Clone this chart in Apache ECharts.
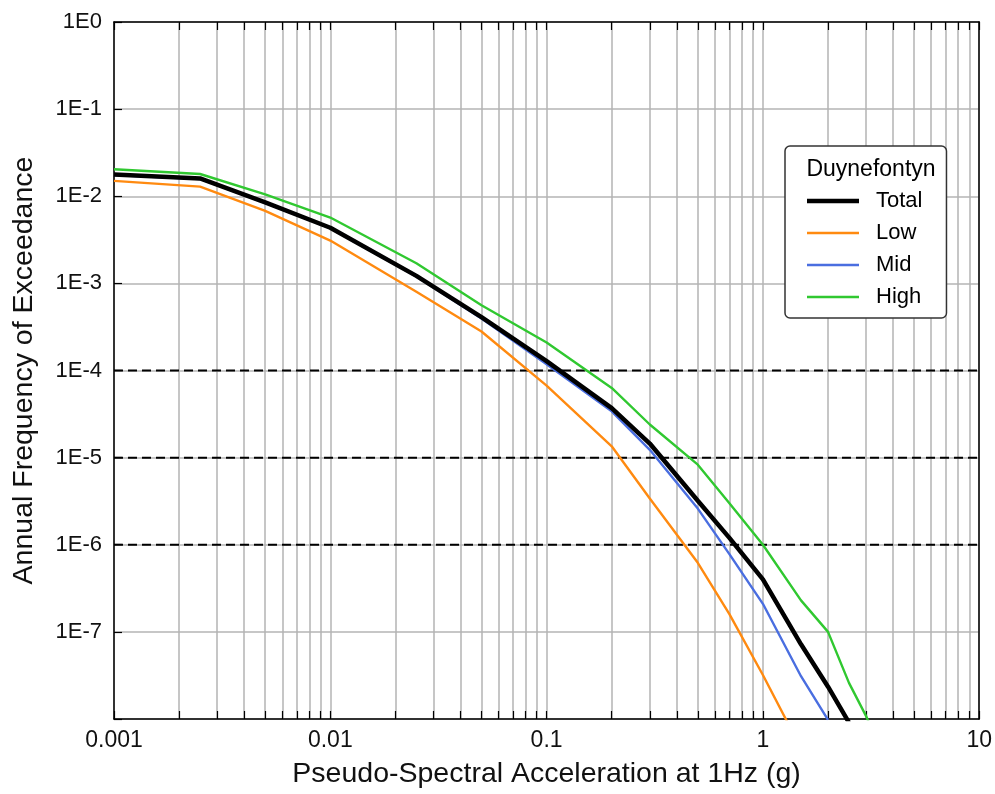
<!DOCTYPE html>
<html>
<head>
<meta charset="utf-8">
<script src="https://cdn.jsdelivr.net/npm/echarts@6/dist/echarts.min.js"></script>
<style>
  html, body { margin: 0; padding: 0; background: #ffffff; }
  #chart { width: 995px; height: 794px; }
</style>
</head>
<body>
<div id="chart"></div>
<script>
// Pseudo-spectral acceleration levels (g) at which the hazard is evaluated
const psa = [0.001, 0.0025, 0.005, 0.01, 0.025, 0.05, 0.1, 0.2, 0.3, 0.5, 0.7, 1, 1.5, 2, 2.5, 3, 4];

// Annual frequency of exceedance per branch (each list stops once it falls below 1E-8)
const total = [1.78e-2, 1.6e-2, 8.5e-3, 4.35e-3, 1.22e-3, 4.1e-4, 1.28e-4, 3.7e-5, 1.45e-5, 3.2e-6, 1.2e-6, 4.0e-7, 7.2e-8, 2.35e-8, 9.1e-9];
const low   = [1.5e-2, 1.29e-2, 6.8e-3, 3.1e-3, 8.0e-4, 2.8e-4, 6.7e-5, 1.35e-5, 3.4e-6, 6.2e-7, 1.6e-7, 3.2e-8, 4.6e-9];
const mid   = [1.75e-2, 1.58e-2, 8.4e-3, 4.3e-3, 1.2e-3, 3.95e-4, 1.18e-4, 3.4e-5, 1.23e-5, 2.6e-6, 7.8e-7, 2.1e-7, 3.1e-8, 9.8e-9];
const high  = [2.04e-2, 1.8e-2, 1.05e-2, 5.7e-3, 1.7e-3, 5.6e-4, 2.1e-4, 6.3e-5, 2.4e-5, 8.3e-6, 3.0e-6, 1.0e-6, 2.3e-7, 1.0e-7, 2.6e-8, 1.08e-8, 2e-9];

// Dashed reference frequencies, drawn across the full acceleration range
const referenceLevels = [1e-4, 1e-5, 1e-6];
const referenceSpan = [0.001, 10];

// Tick labels (x: one per decade from 0.001; y: one per decade from 1E0 down)
const xTickLabels = ['0.001', '0.01', '0.1', '1', '10'];
const yTickLabels = ['1E0', '1E-1', '1E-2', '1E-3', '1E-4', '1E-5', '1E-6', '1E-7', ''];

const legendTitle = 'Duynefontyn';
const xTitle = 'Pseudo-Spectral Acceleration at 1Hz (g)';
const yTitle = 'Annual Frequency of Exceedance';

const FONT = "'Liberation Sans', Arial, sans-serif";
const GRID_GRAY = '#b4b4b4';

const toPoints = ys => ys.map((y, i) => [psa[i], y]);

const xLabel = v => xTickLabels[Math.round(Math.log10(v)) + 3] ?? '';
const yLabel = v => yTickLabels[Math.round(-Math.log10(v))] ?? '';

// Legend swatch: a flat bar whose thickness follows the line width
const swatch = h => 'path://M0,0H52V' + h + 'H0Z';

const baseX = {
  type: 'log', logBase: 10, min: 0.001, max: 10,
  axisLine: { show: true, onZero: false, lineStyle: { color: '#000', width: 1.5 } },
  axisTick: { show: true, inside: true, length: 8, lineStyle: { color: '#000', width: 1.2 } },
  minorTick: { show: true, splitNumber: 9, length: 8, lineStyle: { color: '#000', width: 1.2 } },
};

const chart = echarts.init(document.getElementById('chart'), null, { renderer: 'canvas' });

const referenceSeries = referenceLevels.map(v => ({
  name: 'ref-' + v, type: 'line', symbol: 'none', silent: true, clip: true,
  data: referenceSpan.map(x => [x, v]),
  lineStyle: { color: '#000', width: 2, type: [9, 5] },
  z: 1
}));

chart.setOption({
  backgroundColor: '#ffffff',
  animation: false,
  textStyle: { fontFamily: FONT },
  grid: { left: 114, top: 22, right: 14, bottom: 71, containLabel: false },
  title: {
    text: legendTitle,
    left: 866, top: 153, textAlign: 'center',
    textStyle: { fontFamily: FONT, fontSize: 23, fontWeight: 'normal', color: '#000' },
    z: 10
  },
  legend: {
    orient: 'vertical',
    left: 785, top: 146,
    padding: [44, 24, 10, 22],
    itemWidth: 52, itemHeight: 14, itemGap: 10,
    symbolKeepAspect: true,
    backgroundColor: '#ffffff',
    borderColor: '#333333', borderWidth: 1.5, borderRadius: 5,
    textStyle: { fontFamily: FONT, fontSize: 22, color: '#000', padding: [0, 0, 0, 12] },
    data: [
      { name: 'Total', icon: swatch(4.5) },
      { name: 'Low', icon: swatch(2.4) },
      { name: 'Mid', icon: swatch(2.4) },
      { name: 'High', icon: swatch(2.4) }
    ],
    z: 8
  },
  xAxis: [
    Object.assign({}, baseX, {
      position: 'bottom',
      name: xTitle, nameLocation: 'middle', nameGap: 41,
      nameTextStyle: { fontFamily: FONT, fontSize: 28.5, color: '#111' },
      axisLabel: { show: true, margin: 10, fontFamily: FONT, fontSize: 23, color: '#111', formatter: xLabel },
      splitLine: { show: true, lineStyle: { color: GRID_GRAY, width: 1.5 } },
      minorSplitLine: { show: true, lineStyle: { color: GRID_GRAY, width: 1.5 } }
    }),
    Object.assign({}, baseX, {
      position: 'top',
      axisLabel: { show: false },
      splitLine: { show: false },
      minorSplitLine: { show: false }
    })
  ],
  yAxis: [
    {
      type: 'log', logBase: 10, min: 1e-8, max: 1, position: 'left',
      name: yTitle, nameLocation: 'middle', nameGap: 75,
      nameTextStyle: { fontFamily: FONT, fontSize: 28.5, color: '#111' },
      axisLine: { show: true, onZero: false, lineStyle: { color: '#000', width: 1.5 } },
      axisTick: { show: true, inside: true, length: 8, lineStyle: { color: '#000', width: 1.2 } },
      axisLabel: { show: true, margin: 12, fontFamily: FONT, fontSize: 22, color: '#111', formatter: yLabel },
      splitLine: { show: true, lineStyle: { color: GRID_GRAY, width: 1.5 } }
    },
    {
      type: 'log', logBase: 10, min: 1e-8, max: 1, position: 'right',
      axisLine: { show: true, onZero: false, lineStyle: { color: '#000', width: 1.5 } },
      axisTick: { show: false },
      axisLabel: { show: false },
      splitLine: { show: false }
    }
  ],
  series: referenceSeries.concat([
    {
      name: 'Low', type: 'line', data: toPoints(low), symbol: 'none', clip: true,
      lineStyle: { color: '#ff8a10', width: 2.4 }, itemStyle: { color: '#ff8a10' }, z: 2
    },
    {
      name: 'Mid', type: 'line', data: toPoints(mid), symbol: 'none', clip: true,
      lineStyle: { color: '#4a6ee0', width: 2.4 }, itemStyle: { color: '#4a6ee0' }, z: 2
    },
    {
      name: 'High', type: 'line', data: toPoints(high), symbol: 'none', clip: true,
      lineStyle: { color: '#30c830', width: 2.4 }, itemStyle: { color: '#30c830' }, z: 2
    },
    {
      name: 'Total', type: 'line', data: toPoints(total), symbol: 'none', clip: true,
      lineStyle: { color: '#000000', width: 4.5 }, itemStyle: { color: '#000000' }, z: 3
    }
  ])
});
</script>
</body>
</html>
